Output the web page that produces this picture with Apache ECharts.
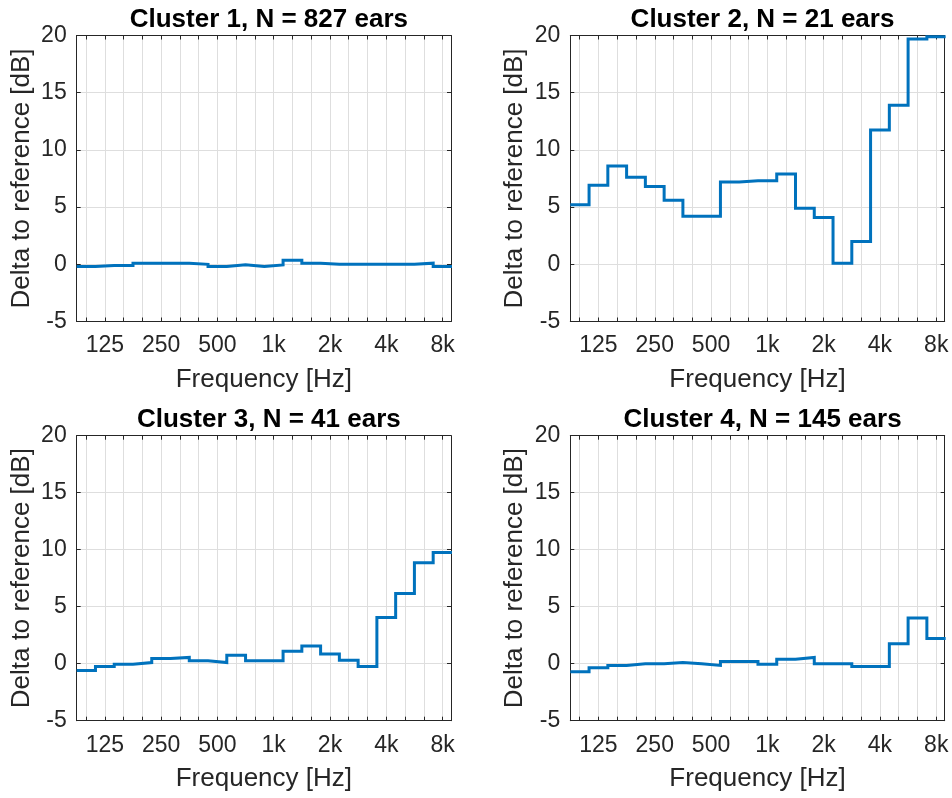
<!DOCTYPE html>
<html><head><meta charset="utf-8">
<script src="https://cdn.jsdelivr.net/npm/echarts@6/dist/echarts.min.js"></script>
<style>html,body{margin:0;padding:0;background:#fff}#c{width:952px;height:798px}</style>
</head><body><div id="c"></div>
<script>
// third-octave band centre frequencies [Hz]
const bandFreqs = [100,125,160,200,250,315,400,500,630,800,1000,1250,1600,2000,2500,3150,4000,5000,6300,8000];
const tickFreqs = [125,250,500,1000,2000,4000,8000];
const tickLabels = ['125','250','500','1k','2k','4k','8k'];
const titles = ['Cluster 1, N = 827 ears','Cluster 2, N = 21 ears','Cluster 3, N = 41 ears','Cluster 4, N = 145 ears'];
// delta to reference [dB] per band
const cluster1 = [-0.2,-0.1,-0.1,0.1,0.1,0.1,0.0,-0.2,-0.05,-0.2,-0.05,0.35,0.1,0.0,0.0,0.0,0.0,0.0,0.1,-0.2];
const cluster2 = [5.2,6.9,8.6,7.6,6.8,5.6,4.2,4.2,7.2,7.3,7.3,7.9,4.9,4.1,0.1,2.0,11.75,13.9,19.7,19.9];
const cluster3 = [-0.6,-0.25,-0.05,0.1,0.45,0.55,0.25,0.1,0.75,0.25,0.25,1.1,1.55,0.85,0.3,-0.25,4.05,6.15,8.85,9.75];
const cluster4 = [-0.7,-0.35,-0.15,0.0,0.0,0.1,0.0,-0.15,0.2,0.2,-0.05,0.4,0.55,0.0,0.0,-0.25,-0.25,1.75,4.0,2.2];
const clusters = [cluster1, cluster2, cluster3, cluster4];

const FONT = "'Liberation Sans', Arial, Helvetica, sans-serif";
const TXT = '#262626';
const GRIDC = '#dedede';
const layout = [
  {left: 76.7, top: 35.5, width: 374.3, height: 286},
  {left: 570.3, top: 35.5, width: 374.4, height: 286},
  {left: 76.7, top: 435.7, width: 374.3, height: 285},
  {left: 570.3, top: 435.7, width: 374.4, height: 285}
];
// position on the log-frequency axis: index in the third-octave series
const fpos = f => bandFreqs.indexOf(f);
const allPos = bandFreqs.map(fpos);
const tickPos = tickFreqs.map(fpos);
const XMIN = -0.5, XMAX = 19.45;

const grid = [], xAxis = [], yAxis = [], series = [], title = [];
layout.forEach((g, k) => {
  grid.push(Object.assign({show: false, outerBoundsMode: 'none', containLabel: false}, g));
  title.push({
    text: titles[k], left: g.left + g.width / 2, top: g.top - 34, textAlign: 'center',
    textStyle: {fontFamily: FONT, fontSize: 26, fontWeight: 'bold', color: '#000'}
  });
  xAxis.push({
    type: 'value', gridIndex: k, min: XMIN, max: XMAX, position: 'bottom',
    name: 'Frequency [Hz]', nameLocation: 'middle', nameGap: 45, nameMoveOverlap: false,
    nameTextStyle: {fontFamily: FONT, fontSize: 26, color: TXT},
    axisLine: {show: true, onZero: false, lineStyle: {color: TXT, width: 1}},
    axisTick: {show: true, inside: true, length: 4, customValues: allPos, lineStyle: {color: TXT}},
    axisLabel: {show: true, customValues: tickPos, margin: 13, fontFamily: FONT, fontSize: 23, color: TXT,
      formatter: v => tickLabels[tickPos.indexOf(Math.round(v))] || ''},
    splitLine: {show: true, lineStyle: {color: GRIDC, width: 1}}
  });
  xAxis.push({
    type: 'value', gridIndex: k, min: XMIN, max: XMAX, position: 'top',
    axisLine: {show: true, onZero: false, lineStyle: {color: TXT, width: 1}},
    axisTick: {show: true, inside: true, length: 4, customValues: allPos, lineStyle: {color: TXT}},
    axisLabel: {show: false}, splitLine: {show: false}
  });
  yAxis.push({
    type: 'value', gridIndex: k, min: -5, max: 20, interval: 5, position: 'left',
    name: 'Delta to reference [dB]', nameLocation: 'middle', nameGap: 42, nameMoveOverlap: false,
    nameTextStyle: {fontFamily: FONT, fontSize: 26, color: TXT},
    axisLine: {show: true, onZero: false, lineStyle: {color: TXT, width: 1}},
    axisTick: {show: true, inside: true, length: 4, lineStyle: {color: TXT}},
    axisLabel: {show: true, margin: 10, fontFamily: FONT, fontSize: 23, color: TXT},
    splitLine: {show: true, lineStyle: {color: GRIDC, width: 1}}
  });
  yAxis.push({
    type: 'value', gridIndex: k, min: -5, max: 20, interval: 5, position: 'right',
    axisLine: {show: true, onZero: false, lineStyle: {color: TXT, width: 1}},
    axisTick: {show: true, inside: true, length: 4, lineStyle: {color: TXT}},
    axisLabel: {show: false}, splitLine: {show: false}
  });
  const vals = clusters[k];
  const pts = vals.map((v, i) => [fpos(bandFreqs[i]) - 0.5, v]);
  pts.push([fpos(bandFreqs[vals.length - 1]) + 0.5, vals[vals.length - 1]]);
  series.push({
    type: 'line', xAxisIndex: 2 * k, yAxisIndex: 2 * k, data: pts, step: 'end',
    showSymbol: false, symbol: 'none', clip: true, animation: false,
    lineStyle: {color: '#0072BD', width: 3, join: 'miter', cap: 'butt'}
  });
});

const chart = echarts.init(document.getElementById('c'), null, {renderer: 'canvas'});
chart.setOption({animation: false, backgroundColor: '#fff', title, grid, xAxis, yAxis, series});
</script></body></html>
